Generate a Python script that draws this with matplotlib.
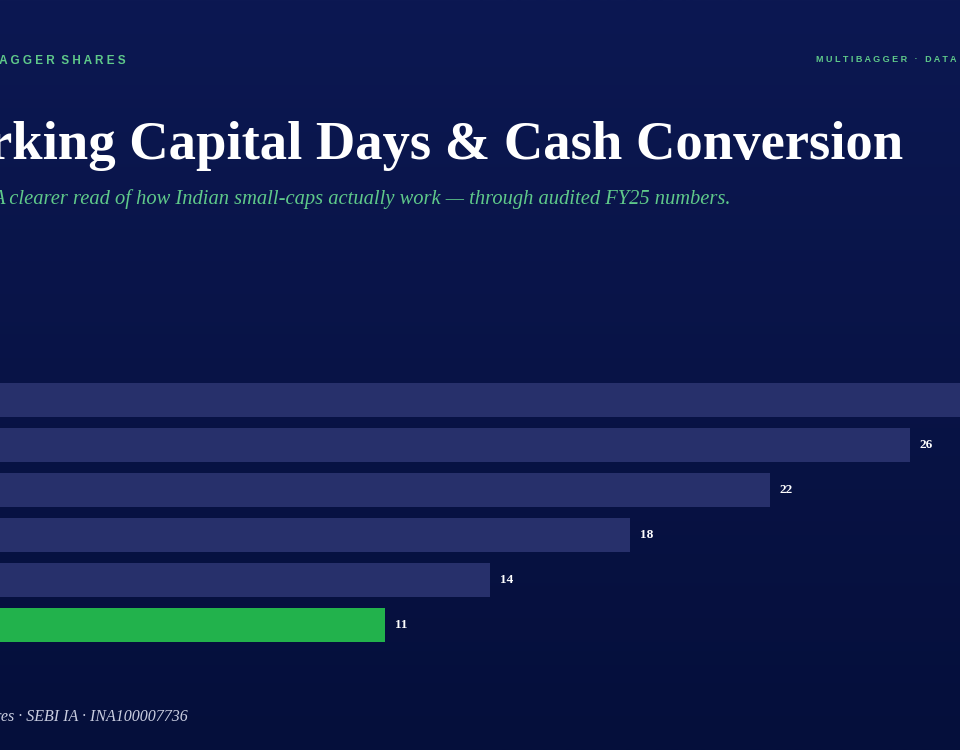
import numpy as np
import matplotlib.pyplot as plt
from matplotlib.colors import LinearSegmentedColormap

# bar values, top to bottom (top bar runs past the right edge)
values = [30, 26, 22, 18, 14, 11]
labels = ['', '26', '22', '18', '14', '11']
colors = ['#27306b', '#27306b', '#27306b', '#27306b', '#27306b', '#22b24c']

W, H = 960, 750
fig = plt.figure(figsize=(W / 100, H / 100), dpi=100)

# background gradient
bg = fig.add_axes([0, 0, 1, 1])
grad = np.linspace(0, 1, 256).reshape(-1, 1)
cmap = LinearSegmentedColormap.from_list('bg', ['#0c1852', '#050f3b'])
bg.imshow(grad, aspect='auto', cmap=cmap, extent=[0, 1, 0, 1])
bg.axis('off')

# bar axes: 35 px per unit, zero at the left edge
ax = fig.add_axes([0, (H - 647.5) / H, 1, 270 / H])
ax.set_facecolor('none')
y = np.arange(len(values))
ax.barh(y, values, height=0.755, color=colors)
for yi, v, lab in zip(y, values, labels):
    if lab:
        ax.text(v + 10 / 35, yi, lab, va='center', ha='left', color='white',
                fontsize=9.5, fontweight='bold', family='Liberation Serif')
ax.set_xlim(0, W / 35)
ax.set_ylim(len(values) - 0.5, -0.5)
ax.axis('off')

def px(x, yy):
    return x / W, 1 - yy / H

green = '#5fc98a'
fig.text(*px(126, 61), 'M U L T I B A G G E R  S H A R E S', ha='right', va='center',
         color=green, fontsize=8.5, fontweight='bold', family='Liberation Sans')
fig.text(*px(816, 60), 'M U L T I B A G G E R   ·   D A T A', ha='left', va='center',
         color=green, fontsize=6.5, fontweight='bold', family='Liberation Sans')
fig.text(*px(903, 146), 'Working Capital Days & Cash Conversion', ha='right', va='center',
         color='white', fontsize=39.3, fontweight='bold', family='Liberation Serif')
fig.text(*px(731, 199), 'A clearer read of how Indian small-caps actually work — through audited FY25 numbers.',
         ha='right', va='center', color=green, fontsize=14.8, style='italic', family='Liberation Serif')
fig.text(*px(188, 717), 'Multibagger Shares · SEBI IA · INA100007736', ha='right', va='center',
         color='#c9cde0', fontsize=11.5, style='italic', family='Liberation Serif')

fig.savefig('out.png', dpi=100)
